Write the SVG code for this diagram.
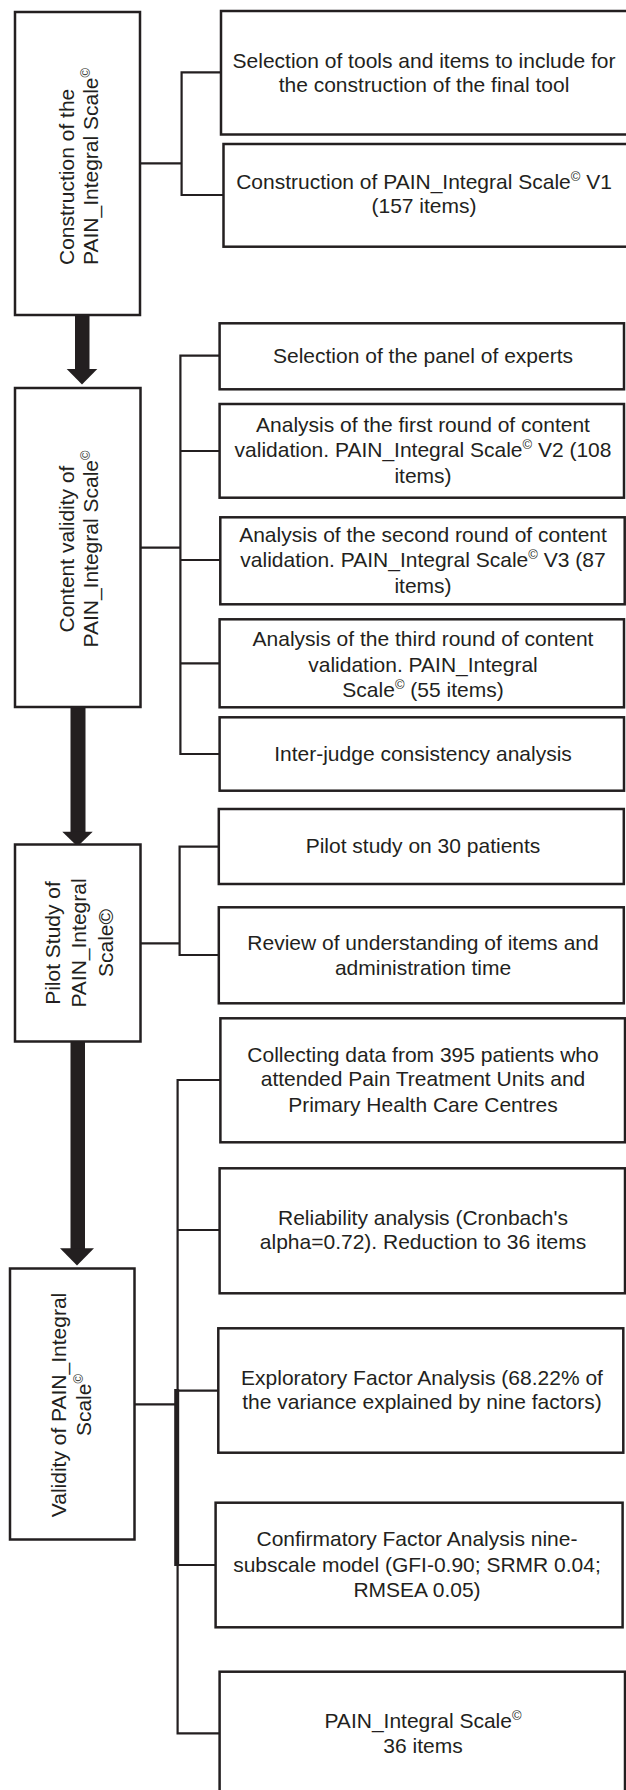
<svg xmlns="http://www.w3.org/2000/svg" width="626" height="1790" viewBox="0 0 626 1790">
<style>
.box{fill:#fff;stroke:#231f20;stroke-width:2.5}
.conn{fill:none;stroke:#231f20;stroke-width:2.2}
.arrow{fill:#231f20;stroke:none}
.t{font-family:"Liberation Sans",Arial,sans-serif;font-size:21px;fill:#231f20;text-anchor:middle}
.ts{text-anchor:start}
.sup{font-size:13px}
</style>
<rect width="626" height="1790" fill="#fff"/>
<g id="connectors">
  <path class="conn" d="M220.8,72.3 H181.6 V195 H223.5 M140,163.3 H181.6"/>
  <path class="conn" d="M219.6,355.7 H180.4 V754 H219.6 M180.4,451 H219.6 M180.4,560 H220.3 M180.4,663.3 H219.6 M140.5,547.7 H180.4"/>
  <path class="conn" d="M218.8,846.7 H179.6 V955 H218.8 M140.5,943.3 H179.6"/>
  <path class="conn" d="M220.4,1080 H177.6 V1733.3 H219.6 M177.6,1230 H219.6 M177.6,1390.7 H218.3 M177.6,1565 H215.6 M134.5,1404.3 H177.6"/>
  <path class="conn" d="M176.7,1389 V1566" style="stroke-width:5"/>
  <rect class="arrow" x="75" y="314" width="14.5" height="56"/>
  <polygon class="arrow" points="66.7,369 97.3,369 82,384.5"/>
  <rect class="arrow" x="70.5" y="706" width="15" height="127"/>
  <polygon class="arrow" points="62.3,831.7 92.7,831.7 77.5,846.5"/>
  <rect class="arrow" x="70.5" y="1041" width="14.5" height="209"/>
  <polygon class="arrow" points="60,1248.3 94,1248.3 77,1265.5"/>
</g>
<g id="n1">
  <rect class="box" x="15" y="12" width="125" height="303"/>
  <text class="t ts" transform="rotate(-90)" x="-265" y="74">Construction of the</text>
  <text class="t ts" transform="rotate(-90)" x="-265" y="98">PAIN_Integral Scale<tspan class="sup" dy="-8">©</tspan></text>
</g>
<g id="n1a">
  <rect class="box" x="221" y="11" width="420" height="123.5"/>
  <text class="t" x="424" y="68.3">Selection of tools and items to include for</text>
  <text class="t" x="424" y="92.3">the construction of the final tool</text>
</g>
<g id="n1b">
  <rect class="box" x="223.5" y="144" width="420" height="102.7"/>
  <text class="t" x="424" y="189.3">Construction of PAIN_Integral Scale<tspan class="sup" dy="-8">©</tspan><tspan dy="8"> V1</tspan></text>
  <text class="t" x="424" y="213.3">(157 items)</text>
</g>
<g id="n2">
  <rect class="box" x="15" y="388" width="125.5" height="319"/>
  <text class="t" transform="rotate(-90)" x="-549" y="74">Content validity of</text>
  <text class="t" transform="rotate(-90)" x="-549" y="98">PAIN_Integral Scale<tspan class="sup" dy="-8">©</tspan></text>
</g>
<g id="n2a">
  <rect class="box" x="219.6" y="323.3" width="404.4" height="66"/>
  <text class="t" x="423" y="363.3">Selection of the panel of experts</text>
</g>
<g id="n2b">
  <rect class="box" x="219.6" y="404" width="404.4" height="93.7"/>
  <text class="t" x="423" y="431.7">Analysis of the first round of content</text>
  <text class="t" x="423" y="457.3">validation. PAIN_Integral Scale<tspan class="sup" dy="-8">©</tspan><tspan dy="8"> V2 (108</tspan></text>
  <text class="t" x="423" y="482.7">items)</text>
</g>
<g id="n2c">
  <rect class="box" x="220.3" y="517.3" width="404.4" height="87"/>
  <text class="t" x="423" y="541.7">Analysis of the second round of content</text>
  <text class="t" x="423" y="567.3">validation. PAIN_Integral Scale<tspan class="sup" dy="-8">©</tspan><tspan dy="8"> V3 (87</tspan></text>
  <text class="t" x="423" y="592.7">items)</text>
</g>
<g id="n2d">
  <rect class="box" x="219.6" y="619.3" width="404.4" height="88"/>
  <text class="t" x="423" y="646">Analysis of the third round of content</text>
  <text class="t" x="423" y="671.7">validation. PAIN_Integral</text>
  <text class="t" x="423" y="696.7">Scale<tspan class="sup" dy="-8">©</tspan><tspan dy="8"> (55 items)</tspan></text>
</g>
<g id="n2e">
  <rect class="box" x="219.6" y="717.3" width="404.4" height="73.4"/>
  <text class="t" x="423" y="760.7">Inter-judge consistency analysis</text>
</g>
<g id="n3">
  <rect class="box" x="15" y="844.5" width="125.5" height="197"/>
  <text class="t" transform="rotate(-90)" x="-943" y="60">Pilot Study of</text>
  <text class="t" transform="rotate(-90)" x="-943" y="86">PAIN_Integral</text>
  <text class="t" transform="rotate(-90)" x="-943" y="113">Scale©</text>
</g>
<g id="n3a">
  <rect class="box" x="218.8" y="809" width="405" height="75"/>
  <text class="t" x="423" y="852.7">Pilot study on 30 patients</text>
</g>
<g id="n3b">
  <rect class="box" x="218.8" y="907.3" width="405" height="96"/>
  <text class="t" x="423" y="950">Review of understanding of items and</text>
  <text class="t" x="423" y="975">administration time</text>
</g>
<g id="n4">
  <rect class="box" x="10" y="1268.5" width="124.5" height="271"/>
  <text class="t" transform="rotate(-90)" x="-1405" y="66">Validity of PAIN_Integral</text>
  <text class="t" transform="rotate(-90)" x="-1405" y="91">Scale<tspan class="sup" dy="-8">©</tspan></text>
</g>
<g id="n4a">
  <rect class="box" x="220.4" y="1018.3" width="404.6" height="124"/>
  <text class="t" x="423" y="1061.7">Collecting data from 395 patients who</text>
  <text class="t" x="423" y="1086">attended Pain Treatment Units and</text>
  <text class="t" x="423" y="1111.7">Primary Health Care Centres</text>
</g>
<g id="n4b">
  <rect class="box" x="219.6" y="1168.3" width="405.4" height="125"/>
  <text class="t" x="423" y="1225">Reliability analysis (Cronbach's</text>
  <text class="t" x="423" y="1249">alpha=0.72). Reduction to 36 items</text>
</g>
<g id="n4c">
  <rect class="box" x="218.3" y="1328.3" width="405" height="124.4"/>
  <text class="t" x="422" y="1385">Exploratory Factor Analysis (68.22% of</text>
  <text class="t" x="422" y="1409.3">the variance explained by nine factors)</text>
</g>
<g id="n4d">
  <rect class="box" x="215.6" y="1502.7" width="407" height="124.6"/>
  <text class="t" x="417" y="1546">Confirmatory Factor Analysis nine-</text>
  <text class="t" x="417" y="1571.7">subscale model (GFI-0.90; SRMR 0.04;</text>
  <text class="t" x="417" y="1596.7">RMSEA 0.05)</text>
</g>
<g id="n4e">
  <rect class="box" x="219.6" y="1671.7" width="405.4" height="140"/>
  <text class="t" x="423" y="1728.3">PAIN_Integral Scale<tspan class="sup" dy="-8">©</tspan></text>
  <text class="t" x="423" y="1752.7">36 items</text>
</g>
</svg>
